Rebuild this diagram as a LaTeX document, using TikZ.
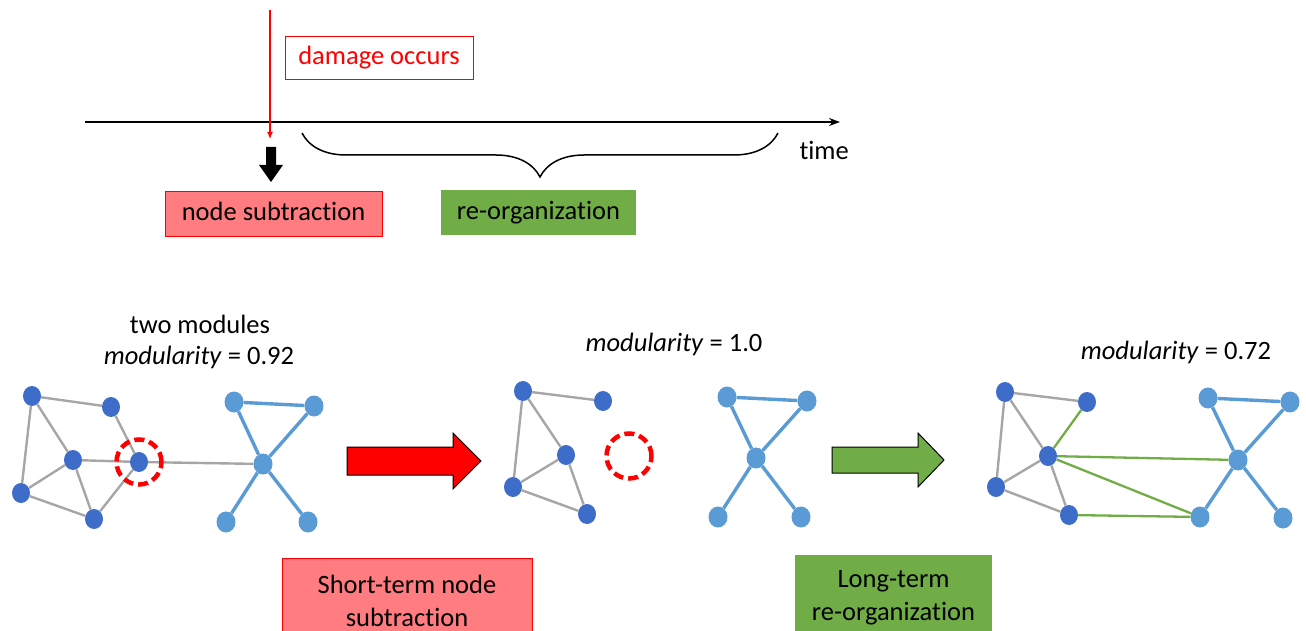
\documentclass[tikz,border=0pt]{standalone}
\usepackage{fontspec}
\setmainfont{Carlito}[Ligatures=NoCommon]
\usetikzlibrary{shapes.geometric,decorations.pathreplacing,arrows.meta}

\definecolor{hitred}{HTML}{FF0000}
\definecolor{softred}{HTML}{FF7C80}
\definecolor{leafgreen}{HTML}{70AD47}
\definecolor{deepblue}{HTML}{3D6CC9}
\definecolor{skyblue}{HTML}{5B9BD5}
\definecolor{linkgray}{HTML}{A6A6A6}

\tikzset{
  dnode/.style={ellipse, fill=deepblue, minimum width=18pt, minimum height=20pt, inner sep=0pt},
  lnode/.style={ellipse, fill=skyblue, minimum width=19pt, minimum height=21pt, inner sep=0pt},
  grayedge/.style={linkgray, line width=2.4pt},
  blueedge/.style={skyblue, line width=3.4pt},
  greenedge/.style={leafgreen, line width=2.3pt},
  gone/.style={circle, draw=hitred, line width=4.5pt, dash pattern=on 10pt off 5pt, minimum size=45pt, inner sep=0pt},
  redbox/.style={draw=hitred, fill=softred, line width=1pt},
  greenbox/.style={fill=leafgreen},
  blockarrow/.style={draw=black, line width=1pt}
}

\begin{document}
\begin{tikzpicture}[x=1pt, y=-1pt, font=\fontsize{26.5}{33}\selectfont]
    \clip (0,0) rectangle (1306,631);

    % Time axis
    \coordinate (t0) at (85,122);
    \coordinate (t1) at (840,122);
    \draw[line width=1.5pt, -{Stealth[length=11pt,width=8pt]}] (t0) -- (t1);
    \node[anchor=west] (time) at (796,150) {time};

    % Damage
    \coordinate (hitTop) at (270,10);
    \coordinate (hit) at (270,139);
    \draw[hitred, line width=1.2pt, -{Latex[length=7pt,width=6pt]}] (hitTop) -- (hit);
    \node[draw=hitred, line width=1pt, text=hitred, minimum width=188pt, minimum height=43pt, text height=19pt, text depth=6pt] (damage) at (379,58.5) {damage occurs};

    % Response
    \fill (266,147) -- (276,147) -- (276,165) -- (283,165) -- (271,182) -- (259,165) -- (266,165) -- cycle;
    \draw[line width=1.5pt, decorate, decoration={brace, amplitude=44pt}] (778,133) -- (302,133);
    \node[redbox, minimum width=217pt, minimum height=44pt, text height=19pt, text depth=6pt] (subtr) at (273.5,214) {node subtraction};
    \node[greenbox, minimum width=195pt, minimum height=45pt, text height=19pt, text depth=6pt] (reorg) at (538.5,212.5) {re-organization};

    % Modularity labels
    \node[anchor=base] (twomod) at (200,333) {two modules};
    \node[anchor=base] (modA) at (199,364) {\textit{modularity} = 0.92};
    \node[anchor=base] (modB) at (674,351) {\textit{modularity} = 1.0};
    \node[anchor=base] (modC) at (1176,359) {\textit{modularity} = 0.72};

    % Network before damage
    \foreach \n/\x/\y in {a/32/396, b/111/407, c/73/460, d/139/462, e/21/493, f/94/519}
        \node[dnode] (A\n) at (\x,\y) {};
    \foreach \n/\x/\y in {g/234/402, h/314/406, i/263/464, j/226/522, k/308/522}
        \node[lnode] (A\n) at (\x,\y) {};
    \foreach \u/\v in {a/b, a/c, a/e, b/d, c/d, c/e, c/f, e/f, d/f, d/i}
        \draw[grayedge] (A\u) -- (A\v);
    \foreach \u/\v in {g/h, g/i, h/i, i/j, i/k}
        \draw[blueedge] (A\u) -- (A\v);
    \node[gone] (Agone) at (Ad) {};

    % Network after subtraction
    \foreach \n/\x/\y in {a/523/391, b/603/401, c/566/455, e/513/487, f/587/514}
        \node[dnode] (B\n) at (\x,\y) {};
    \foreach \n/\x/\y in {g/727/397, h/807/401, i/756/458, j/718/517, k/801/517}
        \node[lnode] (B\n) at (\x,\y) {};
    \foreach \u/\v in {a/b, a/c, a/e, c/e, c/f, e/f}
        \draw[grayedge] (B\u) -- (B\v);
    \foreach \u/\v in {g/h, g/i, h/i, i/j, i/k}
        \draw[blueedge] (B\u) -- (B\v);
    \node[gone] (Bgone) at (629,456) {};

    % Network after re-organization
    \foreach \n/\x/\y in {a/1005/392, b/1087/402, c/1048/456, e/996/487, f/1069/515}
        \node[dnode] (C\n) at (\x,\y) {};
    \foreach \n/\x/\y in {g/1208/398, h/1290/402, i/1238/460, j/1200/517, k/1283/518}
        \node[lnode] (C\n) at (\x,\y) {};
    \foreach \u/\v in {a/b, a/c, a/e, c/e, c/f, e/f}
        \draw[grayedge] (C\u) -- (C\v);
    \foreach \u/\v in {g/h, g/i, h/i, i/j, i/k}
        \draw[blueedge] (C\u) -- (C\v);
    \foreach \u/\v in {c/b, c/i, c/j, f/j}
        \draw[greenedge] (C\u) -- (C\v);

    % Big arrows
    \draw[blockarrow, fill=hitred] (347,447) -- (453,447) -- (453,433) -- (481,461) -- (453,489) -- (453,475) -- (347,475) -- cycle;
    \draw[blockarrow, fill=leafgreen] (832,447) -- (918,447) -- (918,433) -- (944,460) -- (918,487) -- (918,473) -- (832,473) -- cycle;

    % Phase boxes
    \node[redbox, anchor=north, minimum width=250pt, minimum height=84pt, align=center] (shortterm) at (407,558) {Short-term node\\subtraction};
    \node[greenbox, anchor=north, minimum width=197pt, minimum height=85pt, align=center] (longterm) at (893.5,555) {Long-term\\re-organization};
\end{tikzpicture}
\end{document}
